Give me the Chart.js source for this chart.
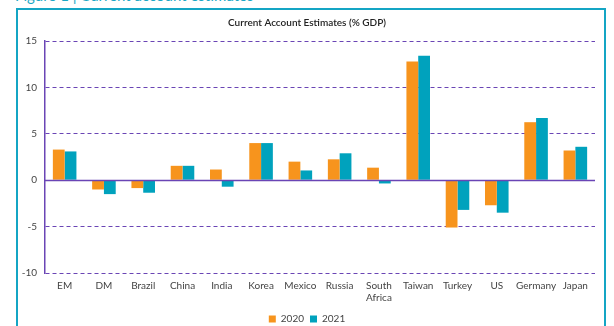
<!DOCTYPE html>
<html lang="en">
<head>
<meta charset="utf-8">
<title>Current Account Estimates</title>
<script src="https://cdn.jsdelivr.net/npm/chart.js@4/dist/chart.umd.min.js"></script>
<style>
	html, body { margin: 0; padding: 0; background: #fff; overflow: hidden; }
	#wrap { position: relative; width: 614px; height: 326px; }
	#hdr { position: absolute; left: 15px; top: -14px; font: 15px Lato, sans-serif; color: #1aa7c6; white-space: nowrap; }
	#frame { position: absolute; left: 16px; top: 8px; width: 586px; height: 340px; border: 2px solid #14a5c4; }
	#c { position: absolute; left: 0; top: 0; }
</style>
</head>
<body>
<div id="wrap">
	<div id="hdr">Figure 1 | Current account estimates</div>
	<div id="frame"></div>
	<canvas id="c" width="614" height="326"></canvas>
</div>
<script>
var categories = ["EM", "DM", "Brazil", "China", "India", "Korea", "Mexico", "Russia",
	["South", "Africa"], "Taiwan", "Turkey", "US", "Germany", "Japan"];
var values2020 = [3.3, -1.0, -0.85, 1.55, 1.15, 4.0, 2.0, 2.25, 1.35, 12.8, -5.1, -2.7, 6.25, 3.2];
var values2021 = [3.1, -1.5, -1.35, 1.55, -0.7, 4.0, 1.05, 2.9, -0.35, 13.4, -3.2, -3.5, 6.7, 3.6];
var yTicks = [15, 10, 5, 0, -5, -10];

var purple = "#6a45b5";
var fontFace = "Lato, 'Open Sans', sans-serif";

// solid zero line drawn over the bars
var zeroLine = {
	id: "zeroLine",
	afterDatasetsDraw: function(chart){
		var y = chart.scales.y, a = chart.chartArea, ctx = chart.ctx;
		var py = Math.round(y.getPixelForValue(0)) + 0.5;
		ctx.save();
		ctx.strokeStyle = purple;
		ctx.lineWidth = 1.5;
		ctx.beginPath();
		ctx.moveTo(a.left, py);
		ctx.lineTo(a.right, py);
		ctx.stroke();
		ctx.restore();
	}
};

new Chart(document.getElementById("c"), {
	type: "bar",
	data: {
		labels: categories,
		datasets: [
			{label: "2020", data: values2020, backgroundColor: "#f7941d"},
			{label: "2021", data: values2021, backgroundColor: "#00a2bd"}
		]
	},
	options: {
		responsive: false,
		animation: false,
		layout: {padding: {left: 19, right: 19, top: 0, bottom: -8}},
		datasets: {bar: {categoryPercentage: 0.6, barPercentage: 1.0}},
		plugins: {
			title: {
				display: true,
				text: "Current Account Estimates (% GDP)",
				color: "#222",
				font: {family: fontFace, size: 10, weight: "600"},
				padding: {top: 17, bottom: 12}
			},
			legend: {
				position: "bottom",
				labels: {
					boxWidth: 7, boxHeight: 7, padding: 6,
					color: "#444",
					font: {family: fontFace, size: 10}
				}
			},
			tooltip: {enabled: false}
		},
		scales: {
			x: {
				grid: {display: false, drawTicks: false},
				border: {display: false},
				ticks: {
					color: "#444", padding: 7, maxRotation: 0, autoSkip: false,
					font: {family: fontFace, size: 10}
				},
				afterFit: function(axis){ axis.height = 35; }
			},
			y: {
				min: -10, max: 15,
				afterBuildTicks: function(axis){
					axis.ticks = yTicks.map(function(v){ return {value: v}; });
				},
				grid: {color: purple, lineWidth: 1, drawTicks: false},
				border: {
					display: true, color: purple, width: 1.5,
					dash: function(ctx){ return ctx.tick && ctx.tick.value === 0 ? [] : [4, 3]; }
				},
				ticks: {
					color: "#444", padding: 8,
					font: {family: fontFace, size: 10}
				},
				afterFit: function(axis){ axis.width = 26; }
			}
		}
	},
	plugins: [zeroLine]
});
</script>
</body>
</html>
